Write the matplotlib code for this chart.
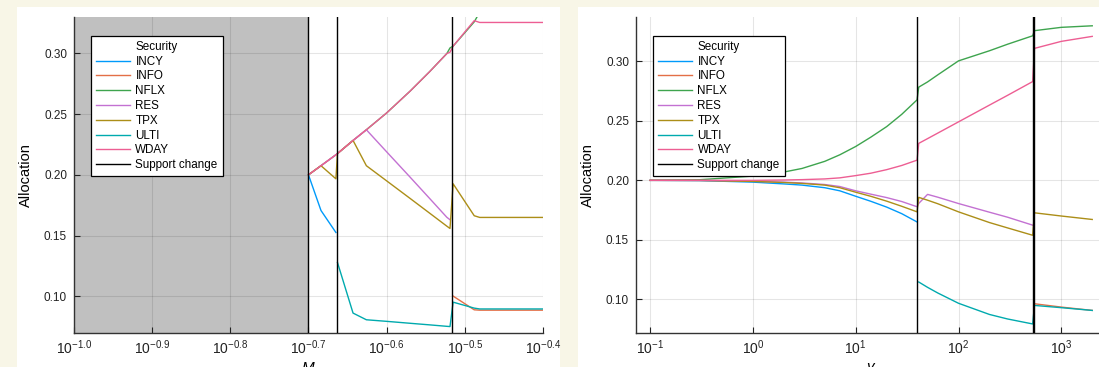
import numpy as np
import matplotlib
matplotlib.use('Agg')
import matplotlib.pyplot as plt
from matplotlib.patches import Rectangle
from matplotlib.ticker import FixedLocator, FixedFormatter, NullLocator

plt.rcParams['font.family'] = ['Liberation Sans', 'DejaVu Sans']
plt.rcParams['mathtext.fontset'] = 'custom'
plt.rcParams['mathtext.rm'] = 'Liberation Sans'
plt.rcParams['mathtext.it'] = 'Liberation Sans:italic'

nan = np.nan
securities = ['INCY', 'INFO', 'NFLX', 'RES', 'TPX', 'ULTI', 'WDAY']
colors = ['#009afa', '#e36f47', '#3ea44e', '#c371d2', '#ac8e18', '#00aaae', '#ed5e93']

# left panel: allocation against M
m_vals = [0.1995, 0.2070, 0.2163, 0.2173, 0.2275, 0.2366, 0.2512, 0.2692,
          0.2851, 0.2999, 0.3027, 0.3055, 0.3251, 0.3304, 0.3981]
m_incy = [0.200, 0.1706, 0.1525, nan, nan, nan, nan, nan, nan, nan, nan, nan, nan, nan, nan]
m_info = [nan, nan, nan, nan, nan, nan, nan, nan, nan, nan, nan, 0.1001, 0.0888, 0.0885, 0.0885]
m_nflx = [0.200, 0.2075, 0.2165, 0.2175, 0.2283, 0.2371, 0.251, 0.269, 0.285,
          0.2999, 0.3045, 0.306, 0.326, 0.334, 0.336]
m_res = [0.200, 0.2075, 0.2165, 0.2175, 0.2283, 0.2371, 0.2189, 0.198, 0.1805,
         0.165, 0.163, nan, nan, nan, nan]
m_tpx = [0.200, 0.2075, 0.1967, 0.2175, 0.2283, 0.2075, 0.195, 0.1805, 0.1684,
         0.1577, 0.1558, 0.1926, 0.1663, 0.1649, 0.1649]
m_ulti = [nan, nan, nan, 0.1278, 0.0861, 0.0806, 0.0793, 0.0777, 0.0764,
          0.0752, 0.075, 0.0951, 0.0902, 0.0895, 0.0895]
m_wday = [0.200, 0.2075, 0.2165, 0.2175, 0.2283, 0.2371, 0.251, 0.269, 0.285,
          0.2999, 0.301, 0.306, 0.327, 0.3255, 0.3255]
m_support = [0.1995, 0.2168, 0.3042]
m_infeasible = [0.1, 0.1995]
m_ticks = [0.1, 0.1259, 0.1585, 0.1995, 0.2512, 0.3162, 0.3981]
m_ticklabels = ['$10^{-1.0}$', '$10^{-0.9}$', '$10^{-0.8}$', '$10^{-0.7}$',
                '$10^{-0.6}$', '$10^{-0.5}$', '$10^{-0.4}$']

# right panel: allocation against gamma
g_vals = [0.1, 0.3, 1.0, 2.0, 3.0, 5.0, 7.0, 10, 14, 20, 28, 39.5, 41, 50, 63,
          100, 200, 300, 527, 548, 1000, 2000]
g_incy = [0.200, 0.1998, 0.1985, 0.197, 0.196, 0.1938, 0.1912, 0.1866, 0.1824,
          0.1775, 0.172, 0.165] + [nan] * 10
g_info = [nan] * 19 + [0.0962, 0.0934, 0.0906]
g_nflx = [0.200, 0.2005, 0.2036, 0.207, 0.210, 0.216, 0.2215, 0.2285, 0.2363,
          0.2452, 0.2555, 0.2677, 0.2784, 0.2828, 0.2888, 0.3005, 0.309, 0.3145,
          0.3216, 0.3259, 0.3287, 0.330]
g_res = [0.200, 0.1999, 0.1993, 0.1985, 0.1978, 0.1965, 0.1948, 0.1912, 0.1884,
         0.1855, 0.1822, 0.1778, 0.1806, 0.1882, 0.1858, 0.1805, 0.1732, 0.169,
         0.1623, nan, nan, nan]
g_tpx = [0.200, 0.1999, 0.1991, 0.1982, 0.1974, 0.196, 0.1938, 0.190, 0.1866,
         0.1825, 0.1782, 0.1735, 0.1857, 0.1833, 0.1803, 0.1735, 0.1645, 0.160,
         0.1538, 0.1727, 0.170, 0.1671]
g_ulti = [nan] * 12 + [0.1145, 0.1100, 0.1052, 0.0966, 0.0872, 0.0834, 0.0792,
                       0.0948, 0.0929, 0.0906]
g_wday = [0.200, 0.200, 0.200, 0.2003, 0.2006, 0.2012, 0.2021, 0.204, 0.206,
          0.209, 0.2125, 0.217, 0.2311, 0.2351, 0.2398, 0.2492, 0.2633, 0.2715,
          0.2831, 0.311, 0.3169, 0.3211]
g_support = [39.5, 530, 545]
g_ticks = [0.1, 1, 10, 100, 1000]
g_ticklabels = ['$10^{-1}$', '$10^{0}$', '$10^{1}$', '$10^{2}$', '$10^{3}$']

y_ticks = [0.10, 0.15, 0.20, 0.25, 0.30]

W, H = 1099, 367
fig = plt.figure(figsize=(W / 100, H / 100), dpi=100, facecolor='#f8f6e7')

# white panels behind the axes
fig.patches.append(Rectangle((17 / W, 0), (560 - 17) / W, (H - 7) / H,
                             transform=fig.transFigure, facecolor='white', edgecolor='none', zorder=-10))
fig.patches.append(Rectangle((578 / W, 0), (W - 578) / W, (H - 7) / H,
                             transform=fig.transFigure, facecolor='white', edgecolor='none', zorder=-10))

ax1 = fig.add_axes([74 / W, (H - 333) / H, 469 / W, 316 / H])
ax2 = fig.add_axes([636 / W, (H - 333) / H, 470 / W, 316 / H])


def style(ax):
    ax.set_xscale('log')
    ax.set_facecolor('white')
    for s in ['top', 'right']:
        ax.spines[s].set_visible(False)
    for s in ['left', 'bottom']:
        ax.spines[s].set_color('#333333')
        ax.spines[s].set_linewidth(1.0)
    ax.grid(True, color='black', alpha=0.1, linewidth=0.8)
    ax.tick_params(direction='in', length=4, width=0.8, pad=5, colors='#222222')
    ax.tick_params(axis='y', labelsize=8.5)
    ax.tick_params(axis='x', labelsize=10, pad=4)
    ax.xaxis.set_minor_locator(NullLocator())
    ax.set_yticks(y_ticks)
    ax.set_yticklabels(['%.2f' % v for v in y_ticks])
    ax.set_ylabel('Allocation', fontsize=10.5, labelpad=8)


m_series = [m_incy, m_info, m_nflx, m_res, m_tpx, m_ulti, m_wday]
g_series = [g_incy, g_info, g_nflx, g_res, g_tpx, g_ulti, g_wday]

# left
style(ax1)
ax1.axvspan(m_infeasible[0], m_infeasible[1], color='#c0c0c0', linewidth=0, zorder=1)
for name, col, vals in zip(securities, colors, m_series):
    ax1.plot(m_vals, vals, color=col, lw=1.0, label=name, zorder=3)
for i, xv in enumerate(m_support):
    ax1.axvline(xv, color='black', lw=1.0, zorder=4, label='Support change' if i == 0 else None)
ax1.set_xlim(0.1, 0.3981)
ax1.set_ylim(0.0697, 0.330)
ax1.xaxis.set_major_locator(FixedLocator(m_ticks))
ax1.xaxis.set_major_formatter(FixedFormatter(m_ticklabels))
ax1.set_xlabel('$M$', fontsize=11, labelpad=3)

# right
style(ax2)
for name, col, vals in zip(securities, colors, g_series):
    ax2.plot(g_vals, vals, color=col, lw=1.0, label=name, zorder=3)
for i, xv in enumerate(g_support):
    ax2.axvline(xv, color='black', lw=1.0, zorder=4, label='Support change' if i == 0 else None)
ax2.set_xlim(10 ** -1.138, 10 ** 3.435)
ax2.set_ylim(0.0716, 0.3374)
ax2.xaxis.set_major_locator(FixedLocator(g_ticks))
ax2.xaxis.set_major_formatter(FixedFormatter(g_ticklabels))
ax2.set_xlabel(r'$\gamma$', fontsize=11, labelpad=3)

for ax in [ax1, ax2]:
    leg = ax.legend(title='Security', loc='upper left', bbox_to_anchor=(0.036, 0.94),
                    fontsize=8.4, title_fontsize=8.4, frameon=True, fancybox=False,
                    framealpha=1, edgecolor='black', handlelength=2.9, handletextpad=0.5,
                    labelspacing=0.24, borderpad=0.42, borderaxespad=0)
    leg.get_frame().set_linewidth(0.9)
    leg.set_zorder(10)

fig.savefig('out.png', dpi=100, facecolor=fig.get_facecolor())
